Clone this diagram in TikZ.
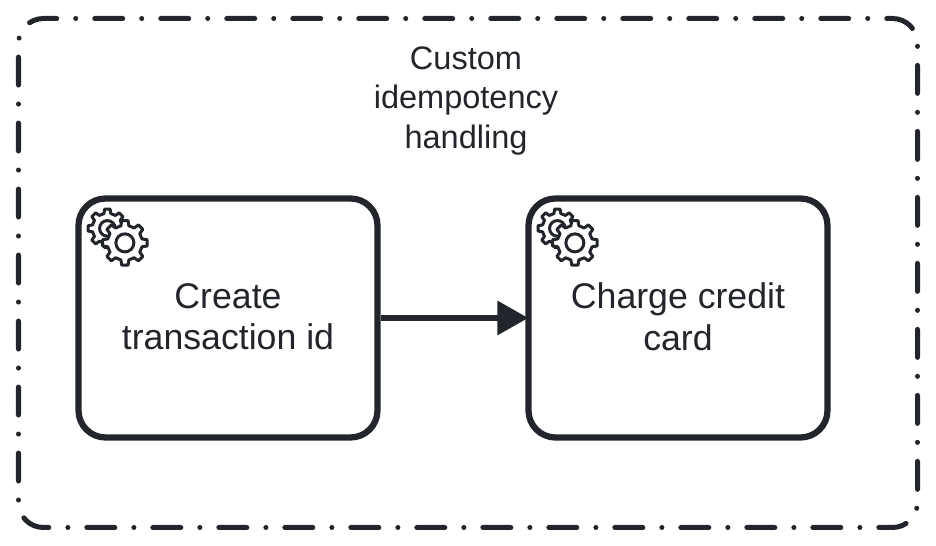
\documentclass[tikz,border=0pt]{standalone}
\usepackage{fontspec}
\setmainfont{Liberation Sans}
\usetikzlibrary{calc, positioning, arrows.meta}

\definecolor{inkcolor}{HTML}{22252B}
\tikzset{
  taskbox/.style={draw=inkcolor, line width=0.125cm, rounded corners=0.54cm, minimum width=5.98cm, minimum height=4.78cm,
    align=center, text=inkcolor, font=\fontsize{20.3}{23.8}\selectfont},
  groupbox/.style={draw=inkcolor, line width=0.1cm, line cap=round, rounded corners=0.5cm, minimum width=17.98cm, minimum height=10.18cm,
    dash pattern=on 0.56cm off 0.38cm on 0.001cm off 0.379cm, dash phase=0.445cm},
  flowarrow/.style={draw=inkcolor, line width=0.125cm, shorten >=-0.06cm, -{Triangle[length=0.62cm, width=0.66cm]}},
  gearline/.style={draw=inkcolor, line width=0.06cm, line join=round, fill=white},
  pics/gear/.style={code={
    \draw[gearline] (8:#1) \foreach \a in {0,45,...,315} {
      -- (\a+8:#1) -- (\a+13:0.78*#1) -- (\a+32:0.78*#1) -- (\a+37:#1)} -- cycle;
    \draw[gearline] (0,0) circle (0.4*#1);
  }}
}

\begin{document}
\begin{tikzpicture}
\useasboundingbox (0,0) rectangle (18.72,10.92);

% Outer group
\node[groupbox] (group) at (9.36,5.46) {};
\node[align=center, text=inkcolor, font=\fontsize{18.5}{22.3}\selectfont] (grouplabel) at (9.32,8.90) {Custom\\idempotency\\handling};

% Tasks
\node[taskbox] (create) at (4.56,4.56) {\raisebox{0.06cm}{Create}\\\raisebox{0.06cm}{transaction id}};
\node[taskbox] (charge) at (13.56,4.56) {\raisebox{0.06cm}{Charge credit}\\\raisebox{0.06cm}{card}};

% Gears in the corners
\pic at ($(create.north west)+(0.64,-0.66)$) {gear=0.39};
\pic at ($(create.north west)+(0.99,-0.95)$) {gear=0.45};
\pic at ($(charge.north west)+(0.64,-0.66)$) {gear=0.39};
\pic at ($(charge.north west)+(0.99,-0.95)$) {gear=0.45};

\draw[flowarrow] (create) -- (charge);
\end{tikzpicture}
\end{document}
